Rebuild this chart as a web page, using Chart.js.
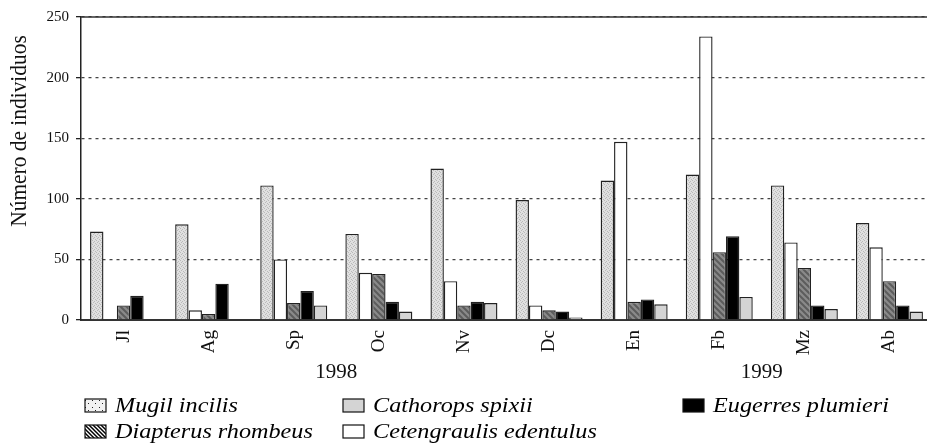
<!DOCTYPE html>
<html>
<head>
<meta charset="utf-8">
<script src="https://cdn.jsdelivr.net/npm/chart.js@4/dist/chart.umd.min.js"></script>
<style>
  html, body { margin: 0; padding: 0; background: #fff; overflow: hidden; }
  #wrap { width: 932px; height: 443px; }
</style>
</head>
<body>
<div id="wrap"><canvas id="fishChart" width="932" height="443"></canvas></div>
<script>
// months of sampling (Jul 1998 - Apr 1999)
const months = ['Jl', 'Ag', 'Sp', 'Oc', 'Nv', 'Dc', 'En', 'Fb', 'Mz', 'Ab'];
const yearLabels = ['1998', '1999'];
const yTicks = [0, 50, 100, 150, 200, 250];

// number of individuals per species
const mugil        = [73, 79, 111, 71, 125, 99, 115, 120, 111, 80];
const cetengraulis = [0, 8, 50, 39, 32, 12, 147, 234, 64, 60];
const diapterus    = [12, 5, 14, 38, 12, 8, 15, 56, 43, 32];
const eugerres     = [20, 30, 24, 15, 15, 7, 17, 69, 12, 12];
const cathorops    = [0, 0, 12, 7, 14, 2, 13, 19, 9, 7];

const SERIF = '"Liberation Serif", "DejaVu Serif", serif';

function makePattern(size, draw) {
    const c = document.createElement('canvas');
    c.width = size;
    c.height = size;
    const g = c.getContext('2d');
    draw(g, size);
    return g.createPattern(c, 'repeat');
}

// fills for the bars
const mugilFill = makePattern(4, function(g) {
    g.fillStyle = '#e0e0e0';
    g.fillRect(0, 0, 4, 4);
    g.fillStyle = '#bababa';
    g.fillRect(0, 0, 1, 1);
    g.fillRect(2, 1, 1, 1);
    g.fillRect(1, 2, 1, 1);
    g.fillRect(3, 3, 1, 1);
});
const diapterusFill = makePattern(6, function(g, s) {
    g.fillStyle = '#8a8a8a';
    g.fillRect(0, 0, s, s);
    g.strokeStyle = '#5c5c5c';
    g.lineWidth = 2;
    g.beginPath();
    g.moveTo(0, 0); g.lineTo(s, s);
    g.moveTo(-s / 2, s / 2); g.lineTo(s / 2, s * 1.5);
    g.moveTo(s / 2, -s / 2); g.lineTo(s * 1.5, s / 2);
    g.stroke();
});

// fills for the legend boxes
const mugilKey = makePattern(7, function(g, s) {
    g.fillStyle = '#f2f2f2';
    g.fillRect(0, 0, s, s);
    g.fillStyle = '#222';
    g.fillRect(1, 1, 1, 1);
    g.fillRect(4, 4, 1, 1);
});
const diapterusKey = makePattern(4, function(g, s) {
    g.fillStyle = '#fff';
    g.fillRect(0, 0, s, s);
    g.strokeStyle = '#000';
    g.lineWidth = 1.5;
    g.beginPath();
    g.moveTo(0, 0); g.lineTo(s, s);
    g.moveTo(-s / 2, s / 2); g.lineTo(s / 2, s * 1.5);
    g.moveTo(s / 2, -s / 2); g.lineTo(s * 1.5, s / 2);
    g.stroke();
});

const legendItems = [
    { text: 'Mugil incilis',          fill: mugilKey,     x: 85,  row: 0 },
    { text: 'Diapterus rhombeus',     fill: diapterusKey, x: 85,  row: 1 },
    { text: 'Cathorops spixii',       fill: '#d4d4d4',    x: 343, row: 0 },
    { text: 'Cetengraulis edentulus', fill: '#ffffff',    x: 343, row: 1 },
    { text: 'Eugerres plumieri',      fill: '#000000',    x: 683, row: 0 }
];

const extras = {
    id: 'extras',
    afterDraw(chart) {
        const ctx = chart.ctx;
        const area = chart.chartArea;
        const xs = chart.scales.x;

        // top frame line
        ctx.save();
        ctx.strokeStyle = '#333';
        ctx.lineWidth = 1.5;
        ctx.beginPath();
        ctx.moveTo(area.left, area.top);
        ctx.lineTo(area.right, area.top);
        ctx.stroke();

        // y title
        ctx.fillStyle = '#111';
        ctx.font = '21px ' + SERIF;
        ctx.textAlign = 'center';
        ctx.textBaseline = 'middle';
        ctx.translate(20, 131);
        ctx.rotate(-Math.PI / 2);
        ctx.scale(1.02, 1.12);
        ctx.fillText('Número de individuos', 0, 0);
        ctx.restore();

        // years under the month labels
        ctx.save();
        ctx.fillStyle = '#111';
        ctx.font = '21px ' + SERIF;
        ctx.textAlign = 'center';
        ctx.textBaseline = 'middle';
        const x1998 = (xs.getPixelForValue(2) + xs.getPixelForValue(3)) / 2;
        const x1999 = (xs.getPixelForValue(7) + xs.getPixelForValue(8)) / 2;
        ctx.fillText(yearLabels[0], x1998, 372);
        ctx.fillText(yearLabels[1], x1999, 372);
        ctx.restore();

        // legend
        legendItems.forEach(function(item) {
            const top = item.row === 0 ? 399 : 425;
            ctx.save();
            ctx.fillStyle = item.fill;
            ctx.fillRect(item.x, top, 21, 13);
            ctx.strokeStyle = '#111';
            ctx.lineWidth = 1.2;
            ctx.strokeRect(item.x, top, 21, 13);
            ctx.fillStyle = '#000';
            ctx.font = 'italic 22px ' + SERIF;
            ctx.textAlign = 'left';
            ctx.textBaseline = 'alphabetic';
            ctx.translate(item.x + 30, top + 13);
            ctx.scale(1.1, 1);
            ctx.fillText(item.text, 0, 0);
            ctx.restore();
        });
    }
};

const barStyle = {
    borderColor: '#222',
    borderWidth: 1.4,
    barPercentage: 1.0,
    categoryPercentage: 0.787
};

const ctx = document.getElementById('fishChart').getContext('2d');
const chart = new Chart(ctx, {
    type: 'bar',
    data: {
        labels: months,
        datasets: [
            Object.assign({ label: 'Mugil incilis', data: mugil, backgroundColor: mugilFill }, barStyle),
            Object.assign({ label: 'Cetengraulis edentulus', data: cetengraulis, backgroundColor: '#ffffff' }, barStyle),
            Object.assign({ label: 'Diapterus rhombeus', data: diapterus, backgroundColor: diapterusFill }, barStyle),
            Object.assign({ label: 'Eugerres plumieri', data: eugerres, backgroundColor: '#000000' }, barStyle),
            Object.assign({ label: 'Cathorops spixii', data: cathorops, backgroundColor: '#d4d4d4' }, barStyle)
        ]
    },
    options: {
        responsive: false,
        animation: false,
        layout: {
            padding: { top: 17, right: 0, bottom: 0, left: 0 }
        },
        plugins: {
            legend: { display: false },
            tooltip: { enabled: false }
        },
        scales: {
            x: {
                grid: { display: false, drawTicks: false },
                border: { color: '#333', width: 2 },
                ticks: {
                    minRotation: 90,
                    maxRotation: 90,
                    padding: 10,
                    color: '#111',
                    font: { family: SERIF, size: 19 }
                },
                afterFit: function(scale) {
                    scale.height = 123;
                }
            },
            y: {
                min: 0,
                max: 250,
                afterBuildTicks: function(scale) {
                    scale.ticks = yTicks.map(v => ({ value: v }));
                },
                grid: {
                    color: '#444',
                    lineWidth: 1.3,
                    tickLength: 5,
                    tickColor: '#222',
                    tickWidth: 1.3,
                    tickBorderDash: []
                },
                border: { color: '#222', width: 1.5, dash: [3, 4] },
                ticks: {
                    padding: 7,
                    color: '#111',
                    font: { family: SERIF, size: 15 }
                },
                afterFit: function(scale) {
                    scale.width = 81;
                }
            }
        }
    },
    plugins: [extras]
});
</script>
</body>
</html>
